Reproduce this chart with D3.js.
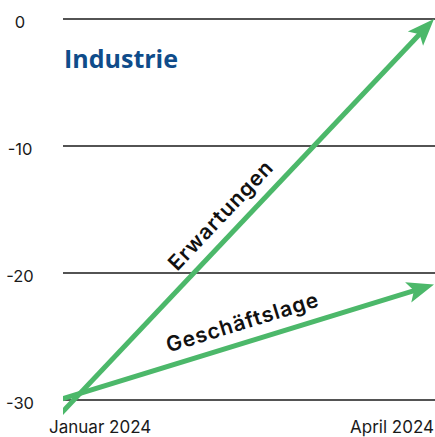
<!DOCTYPE html>
<html>
<head>
<meta charset="utf-8">
<script src="https://cdn.jsdelivr.net/npm/d3@7"></script>
<style>
  html, body { margin: 0; padding: 0; background: #fff; }
  svg { display: block; }
</style>
</head>
<body>
<div id="chart"></div>
<script>

// --------------------------------------
//  Data
// --------------------------------------

const periods = ["Januar 2024", "April 2024"];
const yTicks = [0, -10, -20, -30];
const erwartungen = [-30.9, 0];
const geschaeftslage = [-29.9, -20.9];
const title = "Industrie";

const series = [
  { name: "Erwartungen", values: erwartungen, pos: 0.465 },
  { name: "Geschäftslage", values: geschaeftslage, pos: 0.5 }
];

// --------------------------------------
//  Canvas
// --------------------------------------

const width = 435;
const height = 437;
const green = "#4cb86a";

const svg = d3.select("#chart")
  .append("svg")
    .attr("width", width)
    .attr("height", height)
    .attr("viewBox", [0, 0, width, height]);

// --------------------------------------
//  Scales
// --------------------------------------

const x = d3.scalePoint()
    .domain(periods)
    .range([63, 434]);

const y = d3.scaleLinear()
    .domain([-30, 0])
    .range([400, 19]);

// --------------------------------------
//  Grid + axes
// --------------------------------------

svg.append("g")
  .selectAll("line")
  .data(yTicks)
  .join("line")
    .attr("x1", x.range()[0])
    .attr("x2", width)
    .attr("y1", d => y(d))
    .attr("y2", d => y(d))
    .attr("stroke", "#1a1a1a")
    .attr("stroke-width", 1.5);

svg.append("g")
  .selectAll("text")
  .data(yTicks)
  .join("text")
    .attr("x", 20)
    .attr("y", d => y(d) + 9)
    .attr("text-anchor", "middle")
    .attr("font-family", "Inter, sans-serif")
    .attr("font-size", 16.5)
    .attr("fill", "#1a1a1a")
    .text(d => d === 0 ? "0" : "-" + Math.abs(d));

svg.append("g")
  .selectAll("text")
  .data(periods)
  .join("text")
    .attr("x", (d, i) => i === 0 ? x(d) - 14 : width - 1)
    .attr("y", 433)
    .attr("text-anchor", (d, i) => i === 0 ? "start" : "end")
    .attr("font-family", "Inter, sans-serif")
    .attr("font-size", 17)
    .attr("fill", "#1a1a1a")
    .text(d => d);

svg.append("text")
    .attr("x", 64)
    .attr("y", 68)
    .attr("font-family", "'Open Sans', sans-serif")
    .attr("font-weight", 700)
    .attr("font-size", 25)
    .attr("fill", "#0f4c8a")
    .text(title);

// --------------------------------------
//  Arrows
// --------------------------------------

svg.append("clipPath")
    .attr("id", "clip")
  .append("rect")
    .attr("x", x.range()[0])
    .attr("y", 0)
    .attr("width", width)
    .attr("height", height);

const arrows = svg.append("g")
    .attr("clip-path", "url(#clip)");

const headLen = 27;
const headW = 21;
const notch = 6;

series.forEach(s => {
  const x0 = x(periods[0]), y0 = y(s.values[0]);
  const x1 = x(periods[1]), y1 = y(s.values[1]);
  const len = Math.hypot(x1 - x0, y1 - y0);
  const ux = (x1 - x0) / len, uy = (y1 - y0) / len;
  const nx = -uy, ny = ux;
  const ang = Math.atan2(y1 - y0, x1 - x0) * 180 / Math.PI;

  // shaft (extended slightly left, clipped at the first period)
  arrows.append("line")
      .attr("x1", x0 - ux * 6)
      .attr("y1", y0 - uy * 6)
      .attr("x2", x1 - ux * (headLen - notch - 2))
      .attr("y2", y1 - uy * (headLen - notch - 2))
      .attr("stroke", green)
      .attr("stroke-width", 5);

  // head
  const bx = x1 - ux * headLen, by = y1 - uy * headLen;
  const pts = [
    [x1, y1],
    [bx + nx * headW / 2, by + ny * headW / 2],
    [x1 - ux * (headLen - notch), y1 - uy * (headLen - notch)],
    [bx - nx * headW / 2, by - ny * headW / 2]
  ];
  arrows.append("path")
      .attr("d", d3.line()(pts) + "Z")
      .attr("fill", green);

  // label along the arrow
  const t = s.pos;
  const lx = x0 + (x1 - x0) * t - nx * 13;
  const ly = y0 + (y1 - y0) * t - ny * 13;
  svg.append("text")
      .attr("transform", `translate(${lx}, ${ly}) rotate(${ang})`)
      .attr("text-anchor", "middle")
      .attr("font-family", "Inter, sans-serif")
      .attr("font-weight", 600)
      .attr("font-size", 21)
      .attr("letter-spacing", 1)
      .attr("fill", "#111")
      .text(s.name);
});

</script>
</body>
</html>
